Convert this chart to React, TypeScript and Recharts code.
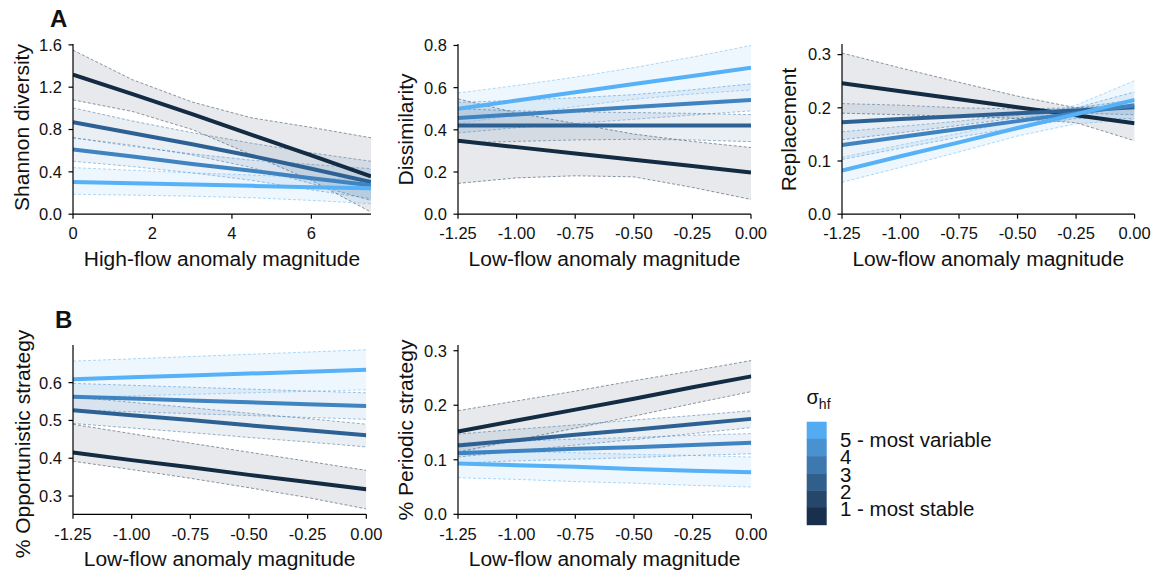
import React from 'react';
import { ComposedChart, Area, Line, XAxis, YAxis } from 'recharts';

const FONT = '"Liberation Sans", Arial, Helvetica, sans-serif';
const TEXT = '#111111';

// series order: sigma_hf 1 (most stable) ... 5 (most variable)
const seriesColors = ['#132B43', '#2E6193', '#3F83C0', '#56B1F7'];
const legendColors = ['#53ABF1', '#4892D0', '#3D78AF', '#305F8C', '#24476A', '#18304B'];
const legendLabels = ['5 - most variable', '4', '3', '2', '1 - most stable'];

// ---------- Panel A1: Shannon diversity ----------
const shannonX = [0, 1.5, 3, 4.5, 6, 7.5];
const shannonTicksX = [0, 2, 4, 6];
const shannonTicksY = [0, 0.4, 0.8, 1.2, 1.6];
const shannonFit = [
  [1.318, 1.135, 0.945, 0.75, 0.555, 0.358],
  [0.869, 0.765, 0.66, 0.55, 0.43, 0.304],
  [0.612, 0.545, 0.475, 0.41, 0.34, 0.273],
  [0.304, 0.293, 0.28, 0.268, 0.255, 0.245],
];
const shannonLo = [
  [1.08, 0.97, 0.8, 0.56, 0.32, 0.02],
  [0.722, 0.65, 0.56, 0.44, 0.29, 0.13],
  [0.5, 0.45, 0.39, 0.32, 0.23, 0.147],
  [0.188, 0.18, 0.17, 0.155, 0.13, 0.1],
];
const shannonHi = [
  [1.55, 1.27, 1.06, 0.91, 0.82, 0.722],
  [1.004, 0.88, 0.77, 0.67, 0.58, 0.5],
  [0.722, 0.64, 0.57, 0.51, 0.47, 0.43],
  [0.44, 0.415, 0.39, 0.37, 0.345, 0.32],
];

// ---------- shared low-flow x ----------
const lowFlowX = [-1.25, -1, -0.75, -0.5, -0.25, 0];
const lowFlowTicks = [-1.25, -1, -0.75, -0.5, -0.25, 0];

// ---------- Panel A2: Dissimilarity ----------
const dissimTicksY = [0, 0.2, 0.4, 0.6, 0.8];
const dissimFit = [
  [0.348, 0.318, 0.288, 0.258, 0.228, 0.198],
  [0.42, 0.42, 0.42, 0.42, 0.42, 0.42],
  [0.456, 0.473, 0.49, 0.508, 0.525, 0.542],
  [0.5, 0.539, 0.578, 0.617, 0.655, 0.694],
];
const dissimLo = [
  [0.146, 0.172, 0.182, 0.177, 0.127, 0.07],
  [0.34, 0.345, 0.352, 0.355, 0.352, 0.344],
  [0.385, 0.41, 0.43, 0.45, 0.47, 0.49],
  [0.43, 0.47, 0.51, 0.545, 0.57, 0.589],
];
const dissimHi = [
  [0.547, 0.48, 0.43, 0.38, 0.345, 0.316],
  [0.5, 0.49, 0.485, 0.482, 0.478, 0.472],
  [0.53, 0.54, 0.552, 0.567, 0.59, 0.618],
  [0.575, 0.61, 0.65, 0.695, 0.745, 0.8],
];

// ---------- Panel A3: Replacement ----------
const replTicksY = [0, 0.1, 0.2, 0.3];
const replFit = [
  [0.246, 0.231, 0.216, 0.201, 0.186, 0.171],
  [0.173, 0.179, 0.184, 0.19, 0.195, 0.201],
  [0.13, 0.145, 0.16, 0.175, 0.19, 0.205],
  [0.082, 0.109, 0.135, 0.162, 0.188, 0.215],
];
const replLo = [
  [0.19, 0.187, 0.184, 0.18, 0.172, 0.138],
  [0.14, 0.153, 0.167, 0.181, 0.19, 0.187],
  [0.103, 0.124, 0.145, 0.163, 0.18, 0.18],
  [0.06, 0.088, 0.117, 0.147, 0.17, 0.178],
];
const replHi = [
  [0.303, 0.275, 0.248, 0.222, 0.2, 0.205],
  [0.208, 0.205, 0.2, 0.198, 0.2, 0.215],
  [0.155, 0.165, 0.175, 0.186, 0.2, 0.23],
  [0.107, 0.13, 0.152, 0.176, 0.205, 0.251],
];

// ---------- Panel B1: % Opportunistic strategy ----------
const opportTicksY = [0.3, 0.4, 0.5, 0.6];
const opportFit = [
  [0.415, 0.395, 0.376, 0.356, 0.337, 0.318],
  [0.527, 0.514, 0.501, 0.487, 0.474, 0.461],
  [0.563, 0.558, 0.553, 0.548, 0.543, 0.538],
  [0.609, 0.614, 0.619, 0.624, 0.629, 0.634],
];
const opportLo = [
  [0.392, 0.37, 0.347, 0.322, 0.296, 0.266],
  [0.492, 0.48, 0.468, 0.455, 0.443, 0.43],
  [0.528, 0.523, 0.518, 0.513, 0.508, 0.503],
  [0.561, 0.565, 0.569, 0.573, 0.577, 0.581],
];
const opportHi = [
  [0.49, 0.465, 0.44, 0.416, 0.392, 0.368],
  [0.562, 0.548, 0.534, 0.519, 0.505, 0.49],
  [0.598, 0.593, 0.588, 0.583, 0.578, 0.573],
  [0.657, 0.663, 0.669, 0.675, 0.681, 0.687],
];

// ---------- Panel B2: % Periodic strategy ----------
const periodTicksY = [0, 0.1, 0.2, 0.3];
const periodFit = [
  [0.152, 0.172, 0.192, 0.212, 0.233, 0.253],
  [0.126, 0.136, 0.146, 0.155, 0.165, 0.175],
  [0.112, 0.116, 0.12, 0.123, 0.127, 0.131],
  [0.093, 0.09, 0.087, 0.083, 0.08, 0.077],
];
const periodLo = [
  [0.114, 0.136, 0.158, 0.18, 0.203, 0.225],
  [0.105, 0.116, 0.127, 0.137, 0.148, 0.159],
  [0.094, 0.098, 0.101, 0.104, 0.108, 0.111],
  [0.067, 0.064, 0.06, 0.057, 0.053, 0.05],
];
const periodHi = [
  [0.19, 0.208, 0.226, 0.245, 0.263, 0.282],
  [0.147, 0.156, 0.164, 0.173, 0.181, 0.19],
  [0.13, 0.134, 0.138, 0.141, 0.145, 0.148],
  [0.118, 0.115, 0.113, 0.11, 0.108, 0.105],
];

function buildRows(xs: number[], fit: number[][], lo: number[][], hi: number[][]) {
  return xs.map((x, i) => {
    const row: any = { x };
    fit.forEach((s, k) => {
      row['m' + k] = s[i];
      row['r' + k] = [lo[k][i], hi[k][i]];
    });
    return row;
  });
}

const ML = 80;
const MT = 40;
const MR = 34;
const XH = 62;
const TITLE_SIZE = 21;

type PanelProps = {
  left: number;
  top: number;
  plotW: number;
  plotH: number;
  rows: any[];
  xDomain: [number, number];
  xTicks: number[];
  xFmt: (v: number) => string;
  yDomain: [number, number];
  yTicks: number[];
  yFmt: (v: number) => string;
  xTitle: string;
  yTitle: string;
  yTitleDx: number;
  yTitleCy: number;
};

function Panel(p: PanelProps) {
  const width = ML + p.plotW + MR;
  const height = MT + p.plotH + XH;
  const tickStyle = { fill: TEXT, fontSize: 16.5, fontFamily: FONT };
  const axisStyle = { stroke: '#000', strokeWidth: 1.2 };
  return (
    <div style={{ position: 'absolute', left: p.left - ML, top: p.top - MT, width, height }}>
      <ComposedChart
        width={width}
        height={height}
        data={p.rows}
        margin={{ top: MT, right: MR, bottom: 0, left: 0 }}
        style={{ overflow: 'visible' }}
      >
        <XAxis
          type="number"
          dataKey="x"
          domain={p.xDomain}
          ticks={p.xTicks}
          tickFormatter={p.xFmt}
          interval={0}
          allowDataOverflow
          height={XH}
          axisLine={axisStyle}
          tickLine={axisStyle}
          tickSize={4.5}
          tickMargin={9}
          tick={tickStyle}
          label={{
            content: (lp: any) => {
              const vb = lp.viewBox || {};
              return (
                <text
                  x={vb.x + vb.width / 2}
                  y={vb.y + 52}
                  textAnchor="middle"
                  fontSize={TITLE_SIZE}
                  fontFamily={FONT}
                  fill={TEXT}
                >
                  {p.xTitle}
                </text>
              );
            },
          }}
        />
        <YAxis
          type="number"
          domain={p.yDomain}
          ticks={p.yTicks}
          tickFormatter={p.yFmt}
          interval={0}
          allowDataOverflow
          width={ML}
          axisLine={axisStyle}
          tickLine={axisStyle}
          tickSize={4.5}
          tickMargin={6.5}
          tick={tickStyle}
          label={{
            content: (lp: any) => {
              const vb = lp.viewBox || {};
              const bx = vb.x + vb.width - p.yTitleDx;
              const cy = p.yTitleCy - p.top + MT;
              return (
                <text
                  x={bx}
                  y={cy}
                  transform={`rotate(-90 ${bx} ${cy})`}
                  textAnchor="middle"
                  fontSize={TITLE_SIZE}
                  fontFamily={FONT}
                  fill={TEXT}
                >
                  {p.yTitle}
                </text>
              );
            },
          }}
        />
        {seriesColors.map((c, k) => (
          <Area
            key={'a' + k}
            type="linear"
            dataKey={'r' + k}
            fill={c}
            fillOpacity={0.1}
            stroke={c}
            strokeOpacity={0.6}
            strokeWidth={0.8}
            strokeDasharray="3 2"
            dot={false}
            activeDot={false}
            isAnimationActive={false}
          />
        ))}
        {seriesColors.map((c, k) => (
          <Line
            key={'l' + k}
            type="linear"
            dataKey={'m' + k}
            stroke={c}
            strokeWidth={4}
            dot={false}
            activeDot={false}
            isAnimationActive={false}
          />
        ))}
      </ComposedChart>
    </div>
  );
}

const fmt0 = (v: number) => String(v);
const fmt1 = (v: number) => v.toFixed(1);
const fmt2 = (v: number) => v.toFixed(2);

export default function App() {
  const binH = 17.2;
  const barTop = 421.7;
  return (
    <div
      style={{
        position: 'absolute',
        left: 0,
        top: 0,
        width: 1157,
        height: 573,
        background: '#fff',
        overflow: 'hidden',
        fontFamily: FONT,
      }}
    >
      <Panel
        left={72.7}
        top={43.5}
        plotW={298}
        plotH={170.2}
        rows={buildRows(shannonX, shannonFit, shannonLo, shannonHi)}
        xDomain={[0, 7.5]}
        xTicks={shannonTicksX}
        xFmt={fmt0}
        yDomain={[0, 1.608]}
        yTicks={shannonTicksY}
        yFmt={fmt1}
        xTitle="High-flow anomaly magnitude"
        yTitle="Shannon diversity"
        yTitleDx={43.5}
        yTitleCy={127}
      />
      <Panel
        left={457.7}
        top={43.5}
        plotW={293}
        plotH={170.2}
        rows={buildRows(lowFlowX, dissimFit, dissimLo, dissimHi)}
        xDomain={[-1.25, 0]}
        xTicks={lowFlowTicks}
        xFmt={fmt2}
        yDomain={[0, 0.807]}
        yTicks={dissimTicksY}
        yFmt={fmt1}
        xTitle="Low-flow anomaly magnitude"
        yTitle="Dissimilarity"
        yTitleDx={45}
        yTitleCy={129}
      />
      <Panel
        left={841.7}
        top={43.5}
        plotW={292.6}
        plotH={170.2}
        rows={buildRows(lowFlowX, replFit, replLo, replHi)}
        xDomain={[-1.25, 0]}
        xTicks={lowFlowTicks}
        xFmt={fmt2}
        yDomain={[0, 0.32]}
        yTicks={replTicksY}
        yFmt={fmt1}
        xTitle="Low-flow anomaly magnitude"
        yTitle="Replacement"
        yTitleDx={46}
        yTitleCy={129}
      />
      <Panel
        left={72.7}
        top={345}
        plotW={293.3}
        plotH={169.3}
        rows={buildRows(lowFlowX, opportFit, opportLo, opportHi)}
        xDomain={[-1.25, 0]}
        xTicks={lowFlowTicks}
        xFmt={fmt2}
        yDomain={[0.2517, 0.6996]}
        yTicks={opportTicksY}
        yFmt={fmt1}
        xTitle="Low-flow anomaly magnitude"
        yTitle="% Opportunistic strategy"
        yTitleDx={42.5}
        yTitleCy={444}
      />
      <Panel
        left={457.7}
        top={345}
        plotW={293.3}
        plotH={169.3}
        rows={buildRows(lowFlowX, periodFit, periodLo, periodHi)}
        xDomain={[-1.25, 0]}
        xTicks={lowFlowTicks}
        xFmt={fmt2}
        yDomain={[0, 0.3105]}
        yTicks={periodTicksY}
        yFmt={fmt1}
        xTitle="Low-flow anomaly magnitude"
        yTitle="% Periodic strategy"
        yTitleDx={44.5}
        yTitleCy={430}
      />
      <svg
        width={1157}
        height={573}
        style={{ position: 'absolute', left: 0, top: 0, pointerEvents: 'none' }}
      >
        <text x={50} y={26.7} fontSize={24} fontWeight="bold" fontFamily={FONT} fill={TEXT}>
          A
        </text>
        <text x={55} y={328.3} fontSize={24} fontWeight="bold" fontFamily={FONT} fill={TEXT}>
          B
        </text>
        <text x={806.5} y={403.5} fontSize={20} fontFamily={FONT} fill={TEXT}>
          σ
          <tspan fontSize={14} dy={5}>
            hf
          </tspan>
        </text>
        {legendColors.map((c, i) => (
          <rect key={c} x={806.7} y={barTop + i * binH} width={20} height={binH + 0.3} fill={c} />
        ))}
        {legendLabels.map((t, i) => (
          <text
            key={t}
            x={840}
            y={barTop + (i + 1) * binH + 1 + 7.2}
            fontSize={20.5}
            fontFamily={FONT}
            fill={TEXT}
          >
            {t}
          </text>
        ))}
      </svg>
    </div>
  );
}
